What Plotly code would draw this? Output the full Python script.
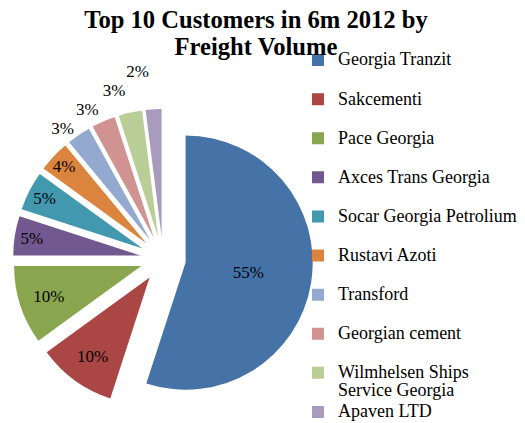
import plotly.graph_objects as go

customers = ["Georgia Tranzit", "Sakcementi", "Pace Georgia", "Axces Trans Georgia",
             "Socar Georgia Petrolium", "Rustavi Azoti", "Transford", "Georgian cement",
             "Wilmhelsen Ships Service Georgia", "Apaven LTD"]
legend_labels = ["Georgia Tranzit", "Sakcementi", "Pace Georgia", "Axces Trans Georgia",
                 "Socar Georgia Petrolium", "Rustavi Azoti", "Transford", "Georgian cement",
                 "Wilmhelsen Ships<br>Service Georgia", "Apaven LTD"]
shares = [55, 10, 10, 5, 5, 4, 3, 3, 3, 2]
colors = ["#4572A7", "#AA4643", "#89A54E", "#71588F", "#4198AF",
          "#DB843D", "#93A9CF", "#D19392", "#B9CD96", "#A99BBD"]
text_pos = ["inside"] * 6 + ["outside"] * 4
title_lines = ["Top 10 Customers in 6m 2012 by", "Freight Volume"]

W, H = 525, 423
FONT = "Liberation Serif"
LEG_PX = 18
TITLE_PX = 24.6


def span(txt, px):
    return "<span style='font-size:%spx'>%s</span>" % (px, txt)


labels_html = []
for i, lab in enumerate(legend_labels):
    s = "<br>".join(span(p, LEG_PX) for p in lab.split("<br>"))
    if "<br>" not in lab and i < len(legend_labels) - 1:
        s += "<br> "
    labels_html.append(s)

title_html = "<br>".join(span("<b>%s</b>" % t, TITLE_PX) for t in title_lines)

fig = go.Figure(go.Pie(
    labels=labels_html,
    values=shares,
    sort=False,
    direction="clockwise",
    rotation=0,
    pull=[0.18] * len(shares),
    marker=dict(colors=colors, line=dict(width=0)),
    texttemplate="<span style='color:black;fill-opacity:1'>%{value}%</span>",
    textposition=text_pos,
    insidetextorientation="horizontal",
    textfont=dict(family=FONT, size=17, color="black"),
    insidetextfont=dict(family=FONT, size=17, color="black"),
    outsidetextfont=dict(family=FONT, size=17, color="white"),
    hoverinfo="label+percent",
    domain=dict(x=[5 / W, 305 / W], y=[(H - 401) / H, (H - 101) / H]),
))

fig.update_layout(
    width=W, height=H,
    margin=dict(l=0, r=0, t=0, b=0, autoexpand=False),
    paper_bgcolor="white",
    plot_bgcolor="white",
    font=dict(family=FONT, color="black"),
    uniformtext=dict(minsize=17, mode="show"),
    title=dict(
        text=title_html,
        font=dict(family=FONT, size=27 / 1.3, color="black"),
        x=248 / W, xanchor="center",
        y=1 - 20 / H, yanchor="top", yref="container",
    ),
    legend=dict(
        x=(339 - 49) / W, xanchor="left",
        y=1 - 36.5 / H, yanchor="top",
        font=dict(family=FONT, size=(39.1 - 3) / 2.6, color="black"),
        valign="top",
        bgcolor="rgba(0,0,0,0)",
        borderwidth=0,
    ),
    showlegend=True,
)

fig.write_html("out.html")
